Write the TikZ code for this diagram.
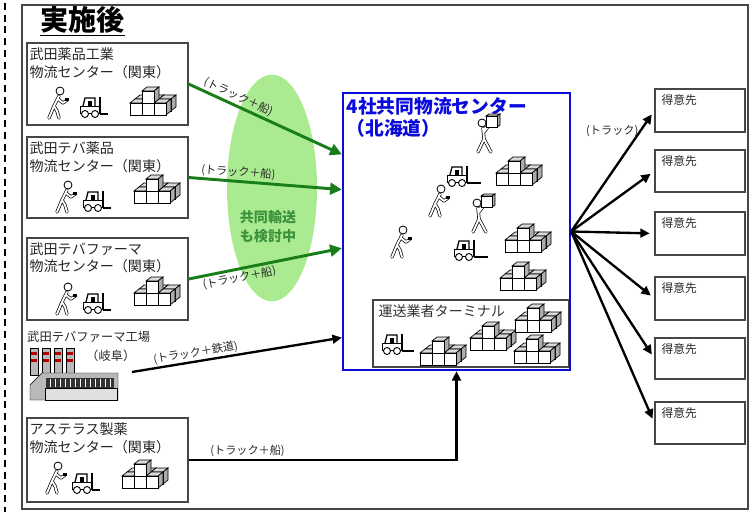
\documentclass[tikz,border=0pt]{standalone}
\usepackage{fontspec}
\setmainfont{Noto Sans CJK JP}
\usepackage{tikz}
\usetikzlibrary{positioning,fit,calc,arrows.meta,shapes.geometric}

\definecolor{flowgreen}{RGB}{25,125,25}
\definecolor{zonegreen}{RGB}{170,235,145}
\definecolor{zonetext}{RGB}{60,145,60}
\definecolor{hqblue}{RGB}{10,10,220}
\definecolor{framegray}{RGB}{70,70,70}

% one crate: top, side, then the front face
\newcommand{\onecube}[2]{%
	\filldraw[fill=gray!30] (#1,#2) -- ++(5,-4) -- ++(12,0) -- ++(-5,4) -- cycle;
	\filldraw[fill=gray!65] (#1+12,#2) -- ++(5,-4) -- ++(0,12) -- ++(-5,4) -- cycle;
	\filldraw[fill=white] (#1,#2) rectangle ++(12,12);}

\tikzset{
	limb/.style={draw=black, double=white, double distance=1.6pt, line width=0.6pt, line cap=round, line join=round},
	pics/crates/.style={code={
		\begin{scope}[line width=0.6pt]
		\foreach \i in {0,1,2} {\onecube{\i*12+5}{-4}}
		\foreach \i in {0,1,2} {\onecube{\i*12}{0}}
		\onecube{12}{-12}
		\end{scope}
	}},
	pics/lift/.style={code={
		\begin{scope}[line width=0.8pt]
		\filldraw[fill=white] (0,9) rectangle (19,16);
		\draw[line width=1.1pt] (3,9) -- (5,1) -- (15,1) -- (15,9);
		\fill (8,4) rectangle (12,9);
		\draw[line width=1.8pt] (20,0) -- (20,17);
		\draw[line width=1.1pt] (20,17) -- ++(#1,0);
		\filldraw[fill=white] (5,17) circle[radius=3.5] (15,17) circle[radius=3.5];
		\end{scope}
	}},
	pics/lift/.default=8,
	pics/walker/.style={code={
		\draw[limb] (15,9) -- (10,19) -- (5,31) (10,19) -- (13,24) -- (15,31) (14,12) -- (19,16) -- (23,13);
		\filldraw[fill=white, line width=0.7pt] (16,4) circle[radius=4];
		\fill (21,11) rectangle (25,14);
	}},
	pics/carrier/.style={code={
		\draw[limb] (9,14) -- (10,25) -- (4,38) (10,25) -- (17,38) (9,16) -- (14,12) (10,18) -- (16,10);
		\filldraw[fill=white, line width=0.7pt] (8,9) circle[radius=4];
		\begin{scope}[line width=0.6pt]
		\filldraw[fill=gray!30] (12,2) -- (15,0) -- (26,0) -- (23,2) -- cycle;
		\filldraw[fill=gray!65] (23,2) -- (26,0) -- (26,11) -- (23,13) -- cycle;
		\filldraw[fill=white] (12,2) rectangle (23,13);
		\end{scope}
	}},
	pics/plant/.style={code={
		\foreach \x in {2,14,26,38} {
			\filldraw[fill=gray!55] (\x,3) rectangle ++(8,27);
			\fill[red!70!black] (\x+1,7) rectangle ++(6,3);
			\fill[red!70!black] (\x+1,14) rectangle ++(6,3);
		}
		\filldraw[fill=gray!55] (2,40) -- (14,28) -- (90,28) -- (90,55) -- (2,55) -- cycle;
		\fill[black!80] (18,33) rectangle (86,43);
		\foreach \x in {22,27,...,82} \draw[white, line width=0.6pt] (\x,34) -- (\x,42);
		\filldraw[fill=gray!25] (17,43) rectangle (89,55);
	}},
}

\begin{document}
\begin{tikzpicture}[x=0.03cm, y=-0.03cm,
	srcbox/.style={draw=framegray, line width=1pt, inner sep=0pt},
	custbox/.style={draw=framegray, line width=1pt, inner sep=0pt},
	hubbox/.style={draw=hqblue, line width=2pt, inner sep=0pt},
	termbox/.style={draw=framegray, line width=1pt, inner sep=0pt},
	boxtext/.style={align=left, inner sep=0pt, text=black!85, font=\fontsize{12}{15.3}\selectfont},
	custtext/.style={inner sep=0pt, text=black!85, font=\fontsize{10}{12}\selectfont},
	routelabel/.style={inner sep=1.5pt, text=black!85, font=\fontsize{9.5}{11}\selectfont},
	greenflow/.style={draw=flowgreen, line width=2.5pt, -{Triangle[length=10pt,width=10pt]}},
	blackflow/.style={draw=black, line width=2pt, -{Triangle[length=8pt,width=7.5pt]}},
	]
	\useasboundingbox (0,0) rectangle (753,512);
	\draw[line width=1.6pt, dash pattern=on 6pt off 4pt] (5,3) -- (5,512);
	\draw[framegray, line width=1.2pt] (22,5) rectangle (748,509);

	\node[anchor=north west, inner sep=0pt, font=\bfseries\fontsize{24}{26}\selectfont] (title) at (40,6) {実施後};
	\draw[line width=1pt] ([yshift=-2pt]title.south west) -- ([yshift=-2pt]title.south east);

	% shippers on the left
	\node[srcbox, fit={(27,43)(188,125)}] (takeda) {};
	\node[boxtext, below right=4pt and 2.5pt of takeda.north west] (takedaname) {武田薬品工業\\物流センター（関東）};
	\pic at (44,87) {walker};
	\pic at (80,97) {lift};
	\pic at (130,103) {crates};

	\node[srcbox, fit={(27,137)(188,218)}] (tevayak) {};
	\node[boxtext, below right=4pt and 2.5pt of tevayak.north west] (tevayakname) {武田テバ薬品\\物流センター（関東）};
	\pic at (52,181) {walker};
	\pic at (83,191) {lift};
	\pic at (134,191) {crates};

	\node[srcbox, fit={(27,238)(188,320)}] (tevaph) {};
	\node[boxtext, below right=4pt and 2.5pt of tevaph.north west] (tevaphname) {武田テバファーマ\\物流センター（関東）};
	\pic at (52,283) {walker};
	\pic at (83,293) {lift};
	\pic at (134,293) {crates};

	\node[anchor=north west, inner sep=0pt, text=black!85, font=\fontsize{10.5}{12}\selectfont] (plantname) at (27,331) {武田テバファーマ工場};
	\node[anchor=north west, inner sep=0pt, text=black!85, font=\fontsize{10.5}{12}\selectfont] (gifu) at (86,350) {（岐阜）};
	\pic at (28,345) {plant};
	\coordinate (plantout) at (132,372);

	\node[srcbox, fit={(27,418)(188,502)}] (astellas) {};
	\node[boxtext, below right=4pt and 2.5pt of astellas.north west] (astellasname) {アステラス製薬\\物流センター（関東）};
	\pic at (42,462) {walker};
	\pic at (72,473) {lift};
	\pic at (122,476) {crates};

	% joint shipping zone
	\node[ellipse, fill=zonegreen, minimum width=2.7cm, minimum height=6.8cm] (joint) at (272,188) {};
	\node[align=center, text=zonetext, font=\bfseries\fontsize{12}{16}\selectfont] (jointnote) at (268,227) {共同輸送\\も検討中};

	% shared centre
	\node[termbox, fit={(373,300)(569,367)}] (term) {};
	\node[hubbox, fit={(343,93)(570,370)}] (hq) {};
	\node[align=left, inner sep=0pt, text=hqblue, font=\bfseries\fontsize{16}{18}\selectfont, below right=5pt and 4pt of hq.north west] (hqname) {4社共同物流センター\\（北海道）};
	\node[inner sep=0pt, text=black!80, font=\fontsize{12}{14}\selectfont, below right=4pt and 5pt of term.north west] (termname) {運送業者ターミナル};
	\pic at (474,114) {carrier};
	\pic at (447,166) {lift=14};
	\pic at (496,173) {crates};
	\pic at (425,185) {walker};
	\pic at (469,194) {carrier};
	\pic at (387,226) {walker};
	\pic at (454,240) {lift=14};
	\pic at (505,240) {crates};
	\pic at (500,278) {crates};
	\pic at (382,334) {lift=12};
	\pic at (420,353) {crates};
	\pic at (470,338) {crates};
	\pic at (515,320) {crates};
	\pic at (514,351) {crates};

	% inbound routes
	\draw[greenflow] (takeda.east) -- ($(hq.north west)!0.224!(hq.south west)$) node[routelabel, pos=0.3, above, sloped] {(トラック＋船)};
	\draw[greenflow] (tevayak.east) -- ($(hq.north west)!0.35!(hq.south west)$) node[routelabel, pos=0.32, above, sloped] {(トラック＋船)};
	\draw[greenflow] (tevaph.east) -- ($(hq.north west)!0.56!(hq.south west)$) node[routelabel, pos=0.32, below, sloped] {(トラック＋船)};
	\draw[blackflow] (plantout) -- ($(hq.north west)!0.88!(hq.south west)$) node[routelabel, pos=0.31, above, sloped] {(トラック＋鉄道)};
	\draw[blackflow] (astellas.east) -| (hq.south) node[routelabel, pos=0.11, above] {(トラック＋船)};

	% customers
	\foreach \n/\t/\b in {1/89/132, 2/150/192, 3/212/255, 4/277/320, 5/338/379, 6/402/444} {
		\node[custbox, fit={(655,\t)(745,\b)}] (cust\n) {};
		\node[custtext, below right=5pt and 6pt of cust\n.north west] (custname\n) {得意先};
		\draw[blackflow, shorten >=4pt] (hq.east) -- (cust\n.west);
	}
	\path (hq.east) -- (cust1.west) node[routelabel, pos=0.83, left] (trucklabel) {(トラック)};
\end{tikzpicture}
\end{document}
